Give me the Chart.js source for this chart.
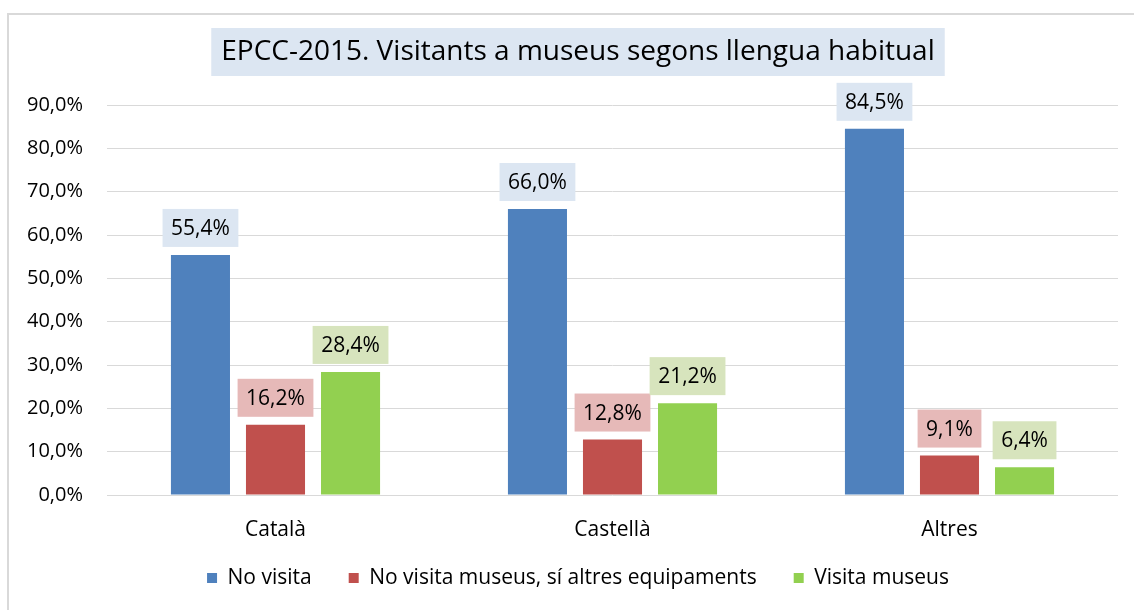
<!DOCTYPE html>
<html>
<head>
<meta charset="utf-8">
<script src="https://cdn.jsdelivr.net/npm/chart.js@4"></script>
<style>
  html, body { margin: 0; padding: 0; background: #fff; }
  #wrap { position: relative; width: 1134px; height: 610px; }
  #frame { position: absolute; left: 7px; top: 13px; width: 1200px; height: 700px;
           border-left: 2px solid #d9d9d9; border-top: 2px solid #d9d9d9; box-sizing: border-box; }
  canvas { position: absolute; left: 0; top: 0; }
</style>
</head>
<body>
<div id="wrap">
  <div id="frame"></div>
  <canvas id="c" width="1134" height="610"></canvas>
</div>
<script>
const titleText = 'EPCC-2015. Visitants a museus segons llengua habitual';
const categories = ['Català', 'Castellà', 'Altres'];
const seriesNames = ['No visita', 'No visita museus, sí altres equipaments', 'Visita museus'];
const noVisita = [55.4, 66.0, 84.5];
const noVisitaMuseus = [16.2, 12.8, 9.1];
const visitaMuseus = [28.4, 21.2, 6.4];
const yTicks = { min: 0, max: 90, step: 10 };

const FONT = '"Open Sans", "Noto Sans", sans-serif';
const colors = ['#4F81BD', '#C0504D', '#92D050'];
const labelBg = ['#DCE6F2', '#E6B9B8', '#D7E4BD'];

function fmt(v) { return Number(v).toFixed(1).replace('.', ',') + '%'; }

const labelPlugin = {
  id: 'boxLabels',
  afterDatasetsDraw(chart) {
    const ctx = chart.ctx;
    ctx.save();
    ctx.font = '21px ' + FONT;
    ctx.textAlign = 'center';
    ctx.textBaseline = 'middle';
    chart.data.datasets.forEach((ds, di) => {
      const meta = chart.getDatasetMeta(di);
      meta.data.forEach((bar, i) => {
        const txt = fmt(ds.data[i]);
        const w = ctx.measureText(txt).width + 17;
        const h = 38;
        const bottom = bar.y - 8;
        ctx.fillStyle = labelBg[di];
        ctx.fillRect(bar.x - w / 2, bottom - h, w, h);
        ctx.fillStyle = '#000';
        ctx.fillText(txt, bar.x, bottom - h / 2 + 1);
      });
    });
    ctx.restore();
  }
};

const titleBgPlugin = {
  id: 'titleBg',
  beforeDraw(chart) {
    const tb = chart.titleBlock;
    if (!tb) return;
    const ctx = chart.ctx;
    ctx.save();
    ctx.font = '28px ' + FONT;
    const w = ctx.measureText(titleText).width + 20;
    const cx = (tb.left + tb.right) / 2;
    ctx.fillStyle = '#DCE6F2';
    ctx.fillRect(cx - w / 2, tb.top, w, 48);
    ctx.restore();
  }
};

// let tick labels extend beyond the (fixed-size) scale boxes without clipping
function noLabelClip(s) { s._computeLabelArea = function () { return undefined; }; }

new Chart(document.getElementById('c'), {
  type: 'bar',
  data: {
    labels: categories,
    datasets: [
      { label: seriesNames[0], data: noVisita, backgroundColor: colors[0], borderWidth: 0 },
      { label: seriesNames[1], data: noVisitaMuseus, backgroundColor: colors[1], borderWidth: 0 },
      { label: seriesNames[2], data: visitaMuseus, backgroundColor: colors[2], borderWidth: 0 }
    ]
  },
  plugins: [titleBgPlugin, labelPlugin],
  options: {
    responsive: false,
    animation: false,
    devicePixelRatio: 1,
    layout: { padding: { left: 38, right: 16, top: 28, bottom: 11.5 } },
    datasets: { bar: { categoryPercentage: 0.668, barPercentage: 0.787 } },
    plugins: {
      title: {
        display: true,
        text: titleText,
        color: '#000',
        font: { family: FONT, size: 28, weight: 'normal' },
        padding: { top: 7, bottom: 36.4 }
      },
      legend: {
        position: 'bottom',
        labels: {
          color: '#000',
          font: { family: FONT, size: 21 },
          boxWidth: 10, boxHeight: 10,
          padding: 37
        }
      },
      tooltip: { enabled: false }
    },
    scales: {
      x: {
        grid: { display: false, drawTicks: false },
        border: { display: false },
        ticks: { color: '#000', font: { family: FONT, size: 21 }, padding: 22 },
        afterFit(s) { s.height = 35.5; noLabelClip(s); }
      },
      y: {
        min: yTicks.min, max: yTicks.max,
        grid: { color: '#d9d9d9', lineWidth: 1, drawTicks: false },
        border: { display: false },
        ticks: {
          stepSize: yTicks.step, color: '#000', padding: 24,
          font: { family: FONT, size: 20 },
          callback: function (value, index, ticks) { return fmt(ticks[index].value); }
        },
        afterFit(s) { s.width = 69; noLabelClip(s); }
      }
    }
  }
});
</script>
</body>
</html>
